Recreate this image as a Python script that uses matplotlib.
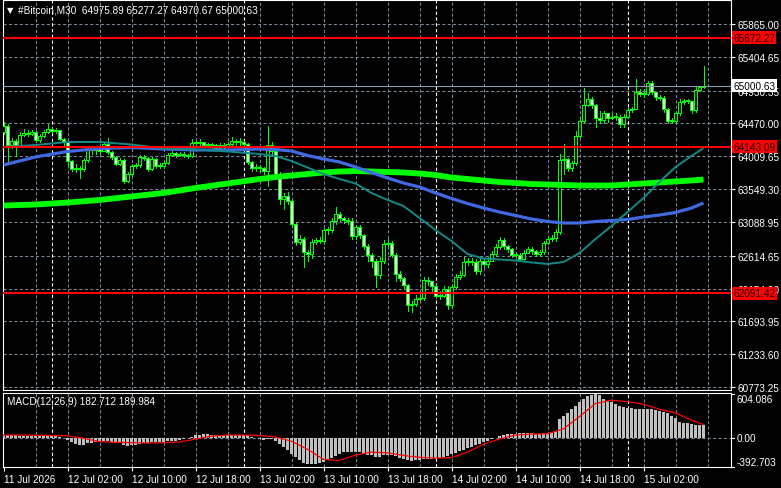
import matplotlib
matplotlib.use('Agg')
import matplotlib.pyplot as plt
from matplotlib.transforms import blended_transform_factory
import numpy as np

# ---------------- data ----------------
first_open = 64350.0
close = [
    64435, 64168, 64224, 64154, 64308, 64336, 64322, 64350, 64238, 64294,
    64350, 64393, 64364, 64378, 64252, 64210, 63944, 63831, 63845, 63831,
    63958, 64098, 64098, 64112, 64084, 64182, 64070, 64000, 63902, 63958,
    63663, 63761, 63873, 63888, 64000, 63986, 63831, 63972, 63873, 63873,
    63916, 64028, 64056, 64028, 64042, 64028, 64014, 64196, 64196, 64210,
    64168, 64168, 64168, 64126, 64168, 64154, 64182, 64224, 64210, 64210,
    64182, 63930, 63845, 63859, 63845, 63803, 64168, 64084, 63761, 63411,
    63453, 63383, 63060, 62807, 62850, 62667, 62639, 62807, 62835, 62821,
    62976, 62976, 63102, 63200, 63144, 63116, 63102, 62892, 63018, 62906,
    62751, 62625, 62541, 62345, 62541, 62779, 62793, 62625, 62359, 62303,
    62204, 61924, 61938, 62008, 62022, 62274, 62260, 62190, 62050, 62050,
    62148, 61924, 62176, 62316, 62345, 62527, 62541, 62527, 62401, 62541,
    62499, 62541, 62639, 62737, 62835, 62751, 62709, 62625, 62625, 62569,
    62653, 62709, 62681, 62639, 62667, 62793, 62850, 62864, 62948, 63958,
    63972, 63845, 63916, 64294, 64505, 64729, 64813, 64729, 64547, 64519,
    64617, 64547, 64561, 64561, 64463, 64561, 64659, 64673, 64912, 64883,
    64883, 65038, 64912, 64841, 64827, 64673, 64505, 64505, 64617, 64771,
    64785, 64785, 64659, 64940, 64975.89, 65000.63]
high = [
    64491, 64463, 64266, 64252, 64350, 64393, 64378, 64378, 64364, 64322,
    64378, 64463, 64407, 64407, 64378, 64266, 64182, 63958, 63902, 63873,
    63986, 64140, 64140, 64154, 64140, 64210, 64266, 64084, 64014, 63986,
    63972, 63789, 63902, 63916, 64028, 64028, 64000, 64000, 63986, 63916,
    63944, 64056, 64084, 64070, 64070, 64070, 64042, 64252, 64224, 64252,
    64210, 64196, 64196, 64182, 64196, 64196, 64210, 64280, 64252, 64266,
    64224, 64196, 63944, 63902, 63888, 63859, 64435, 64210, 64112, 63789,
    63495, 63509, 63411, 63088, 62906, 62878, 62695, 62850, 62864, 62878,
    63004, 63018, 63144, 63298, 63228, 63158, 63144, 63144, 63046, 63046,
    62920, 62779, 62653, 62569, 62597, 62835, 62850, 62821, 62653, 62401,
    62316, 62218, 61980, 62064, 62106, 62316, 62316, 62260, 62218, 62120,
    62190, 62190, 62218, 62359, 62401, 62597, 62583, 62583, 62569, 62597,
    62569, 62597, 62681, 62779, 62878, 62864, 62765, 62723, 62667, 62653,
    62695, 62737, 62737, 62695, 62695, 62821, 62892, 62906, 62990, 64042,
    64182, 63986, 63944, 64364, 64561, 64968, 64897, 64841, 64743, 64645,
    64645, 64603, 64603, 64617, 64589, 64603, 64701, 64701, 65094, 64954,
    64954, 65066, 65066, 64912, 64869, 64855, 64687, 64547, 64645, 64813,
    64813, 64813, 64785, 64982, 64996, 65277.27]
low = [
    64322, 63930, 64126, 64014, 64140, 64294, 64294, 64308, 64210, 64210,
    64280, 64336, 64336, 64336, 64238, 64154, 63873, 63803, 63789, 63705,
    63803, 63930, 64042, 64042, 64042, 64098, 64042, 63972, 63888, 63888,
    63635, 63649, 63733, 63845, 63859, 63958, 63803, 63817, 63845, 63845,
    63845, 63902, 64014, 64000, 64014, 64000, 63986, 64000, 64154, 64154,
    64140, 64140, 64126, 64098, 64112, 64084, 64126, 64168, 64168, 64168,
    64126, 63902, 63803, 63803, 63803, 63761, 63593, 64014, 63719, 63340,
    63270, 63340, 63018, 62765, 62779, 62457, 62541, 62583, 62779, 62793,
    62779, 62920, 62948, 63060, 63102, 63074, 63060, 62850, 62850, 62864,
    62709, 62541, 62457, 62176, 62303, 62513, 62751, 62597, 62260, 62260,
    62148, 61840, 61826, 61910, 61980, 61994, 62204, 62120, 62022, 62008,
    62036, 61868, 61896, 62148, 62288, 62331, 62485, 62485, 62359, 62359,
    62457, 62457, 62541, 62611, 62709, 62709, 62667, 62597, 62597, 62541,
    62541, 62653, 62639, 62611, 62611, 62639, 62779, 62821, 62821, 62920,
    63761, 63803, 63803, 63888, 64280, 64477, 64715, 64687, 64420, 64477,
    64477, 64491, 64533, 64519, 64420, 64420, 64547, 64631, 64673, 64855,
    64841, 64869, 64883, 64799, 64799, 64631, 64477, 64477, 64477, 64589,
    64743, 64757, 64617, 64631, 64925, 64970.67]

ma_idx = [0, 8, 16, 24, 32, 40, 48, 56, 64, 68, 72, 76, 80, 84, 88, 92, 96,
          100, 104, 108, 112, 116, 120, 124, 128, 132, 136, 140, 144, 148,
          152, 156, 160, 164, 168, 172, 175]
ma_blue = [63888, 64000, 64077, 64119, 64133, 64112, 64098, 64098, 64112,
           64105, 64084, 64021, 63972, 63930, 63859, 63782, 63705, 63635,
           63579, 63495, 63418, 63347, 63284, 63228, 63179, 63130, 63095,
           63074, 63074, 63095, 63109, 63123, 63158, 63186, 63221, 63284, 63355]
ma_green = [63319, 63333, 63361, 63397, 63446, 63495, 63565, 63628, 63691,
            63719, 63740, 63761, 63782, 63796, 63803, 63796, 63789, 63782,
            63768, 63747, 63712, 63691, 63670, 63649, 63635, 63621, 63614,
            63607, 63600, 63600, 63600, 63614, 63628, 63642, 63656, 63670, 63684]
ma_teal = [64140, 64168, 64210, 64210, 64175, 64119, 64105, 64077, 64042,
           64014, 63944, 63852, 63761, 63691, 63628, 63495, 63397, 63312,
           63144, 62976, 62821, 62639, 62576, 62562, 62548, 62520, 62499,
           62527, 62653, 62850, 63032, 63228, 63425, 63649, 63859, 64014, 64126]

macd_main = [
    45, 45, 40, 40, 35, 35, 30, 30, 30, 30, 35, 35, 35, 30, 20, 10,
    -20, -55, -80, -90, -85, -70, -60,
    -50, -45, -40, -40, -45, -60, -70, -95,
    -100, -95, -85,
    -75, -65, -65, -55, -55, -55, -50, -40, -35, -30, -25,
    -10, 0, 25, 40, 50,
    55, 55, 50, 50, 45, 45, 45, 50, 50, 50, 50, 40, 20,
    10, -5, -20, -10, -15, -35, -75, -120,
    -160, -210, -260, -300, -340, -360, -360, -355, -340,
    -320, -300, -270, -240, -215, -195, -185, -190, -190, -195, -210, -225,
    -235, -260, -255, -235, -225, -230, -250, -265,
    -285, -300, -310, -305, -300, -285, -280,
    -285, -280, -270, -260, -245,
    -220, -200, -180, -160, -140, -120, -95, -75,
    -50, -35, -15, 5, 30, 40, 55, 60,
    65, 70, 70, 70, 70, 65, 65, 70, 80, 85, 95,
    265, 310, 355, 400, 450, 500, 545, 580, 600, 604, 595,
    540, 520, 495, 470, 446, 430, 420, 412, 410, 410, 408, 405, 400, 392,
    378, 365, 350, 310, 280, 225, 215, 215, 195, 180, 190, 182.712]
sig_idx = [0, 4, 8, 12, 16, 20, 24, 28, 32, 36, 40, 44, 48, 52, 56, 60, 64,
           68, 72, 76, 80, 84, 88, 92, 96, 100, 104, 108, 112, 116, 120, 124,
           128, 132, 136, 140, 144, 148, 152, 156, 160, 164, 168, 172, 175]
macd_signal = [45, 45, 42, 40, 35, 0, -45, -55, -60, -65, -60, -50, -10, 30,
               45, 45, 40, 20, -40, -150, -290, -305, -230, -190, -200, -235,
               -262, -273, -265, -190, -80, -10, 45, 58, 62, 130, 300, 480,
               525, 505, 470, 400, 350, 250, 189.984]

price_ticks = [65865.00, 65404.65, 64930.35, 64470.00, 64009.65, 63549.30,
               63088.95, 62614.65, 62154.30, 61693.95, 61233.60, 60773.25]
levels = [65672.27, 64143.09, 62091.42]
last_price = 65000.63
x_label_idx = [0, 16, 32, 48, 64, 80, 96, 112, 128, 144, 160]
x_labels = ["11 Jul 2026", "12 Jul 02:00", "12 Jul 10:00", "12 Jul 18:00",
            "13 Jul 02:00", "13 Jul 10:00", "13 Jul 18:00", "14 Jul 02:00",
            "14 Jul 10:00", "14 Jul 18:00", "15 Jul 02:00"]
separators = [12, 60, 108, 156]
macd_max, macd_min = 604.086, -392.703
title = "#Bitcoin,M30  64975.89 65277.27 64970.67 65000.63"
macd_title = "MACD(12,26,9) 182.712 189.984"

# ---------------- style ----------------
FONT = ['Liberation Sans', 'DejaVu Sans']
plt.rcParams['font.family'] = FONT
LIME = '#00ff00'
GRID = '#778899'
W, H = 781, 489
fig = plt.figure(figsize=(W / 100, H / 100), dpi=100, facecolor='black')


def rect(l, t, r, b):
    return [l / W, 1 - b / H, (r - l) / W, (b - t) / H]


ax = fig.add_axes(rect(2.5, 0.5, 730.5, 391))
ax2 = fig.add_axes(rect(2.5, 394, 730.5, 468))
XL = (-0.25, 181.75)
for a in (ax, ax2):
    a.set_facecolor('black')
    a.set_xlim(*XL)
    for s in a.spines.values():
        s.set_color('white')
        s.set_linewidth(0.8)
ax.set_ylim(60731.4, 66209)
ax2.set_ylim(macd_min - 2, macd_max + 20)

dash = (0, (3, 2.2))
# vertical grid
for a in (ax, ax2):
    for k in range(8, 182, 8):
        a.axvline(k, color=GRID, lw=0.75, ls=dash, zorder=1)
    for s in separators:
        a.axvline(s, color='white', lw=0.8, ls=dash, zorder=1.1)
for p in price_ticks:
    ax.axhline(p, color=GRID, lw=0.75, ls=dash, zorder=1)
ax2.axhline(0, color=GRID, lw=0.75, ls=dash, zorder=1)

# candles
c = np.array(close, float)
o = np.array([first_open] + close[:-1], float)
h = np.maximum(np.array(high, float), np.maximum(o, c))
l = np.minimum(np.array(low, float), np.minimum(o, c))
x = np.arange(len(c))
ax.vlines(x, l, h, color=LIME, lw=0.72, zorder=3, antialiased=False)
bull = c >= o
lo = np.minimum(o, c)
ht = np.maximum(np.abs(c - o), 10)
ax.bar(x[bull], ht[bull], bottom=lo[bull], width=0.7, color='black',
       edgecolor=LIME, linewidth=0.6, zorder=4, antialiased=False)
ax.bar(x[~bull], ht[~bull], bottom=lo[~bull], width=0.7, color='white',
       edgecolor=LIME, linewidth=0.6, zorder=4, antialiased=False)

# moving averages
ax.plot(ma_idx, ma_green, color='#00ff00', lw=4.2, zorder=5,
        solid_capstyle='butt')
ax.plot(ma_idx, ma_blue, color='#4169e1', lw=2.3, zorder=6,
        solid_capstyle='butt')
ax.plot(ma_idx, ma_teal, color='#138a8a', lw=1.4, zorder=6,
        solid_capstyle='butt')

# levels and price line
for lv in levels:
    ax.axhline(lv, color='#ff0000', lw=1.5, zorder=7)
ax.axhline(last_price, color='#8899aa', lw=0.8, zorder=6.5)

# right axis
ax.yaxis.tick_right()
ax.set_yticks(price_ticks)
ax.set_yticklabels([f"{p:.2f}" for p in price_ticks])
ax.tick_params(axis='y', colors='white', length=3, width=0.8, pad=2,
               labelsize=7.2, labelcolor='white')
ax.set_xticks([])
tr = blended_transform_factory(ax.transAxes, ax.transData)
for lv in levels:
    ax.text(1.0 + 2.5 / 728, lv, f"{lv:.2f}", transform=tr, ha='left',
            va='center', fontsize=7.2, color='#1a0000', clip_on=False,
            zorder=10,
            bbox=dict(boxstyle='square,pad=0.15', fc='#ff0000', ec='none'))
ax.text(1.0 + 2.5 / 728, last_price, f"{last_price:.2f}", transform=tr,
        ha='left', va='center', fontsize=7.2, color='black', clip_on=False,
        zorder=10, bbox=dict(boxstyle='square,pad=0.15', fc='white', ec='none'))

# MACD panel
ax2.bar(x, macd_main, width=0.6, color='#c0c0c0', zorder=3,
        antialiased=False)
ax2.plot(sig_idx, macd_signal, color='#ff0000', lw=0.9, zorder=4)
ax2.yaxis.tick_right()
ax2.set_yticks([])
tr2 = blended_transform_factory(ax2.transAxes, ax2.transData)
ax2.text(1.0 + 6 / 728, macd_max, f"{macd_max:.3f}", transform=tr2,
         ha='left', va='top', fontsize=7.2, color='white', clip_on=False)
ax2.text(1.0 + 6 / 728, 0, "0.00", transform=tr2, ha='left', va='center',
         fontsize=7.2, color='white', clip_on=False)
ax2.text(1.0 + 6 / 728, macd_min, f"{macd_min:.3f}", transform=tr2,
         ha='left', va='bottom', fontsize=7.2, color='white', clip_on=False)
for v in (macd_max, 0, macd_min):
    ax2.plot([1.0, 1.0 + 3 / 728], [v, v], transform=tr2, color='white',
             lw=0.8, clip_on=False)
ax2.set_xticks(x_label_idx)
ax2.set_xticklabels(x_labels)
ax2.tick_params(axis='x', colors='white', length=3, width=0.8, pad=2,
                labelsize=7.2, labelcolor='white')
for t in ax2.get_xticklabels():
    t.set_ha('left')

# titles
fig.text(7 / W, 1 - 10.5 / H, "\u25BC", color='white', fontsize=6,
         va='center', ha='left', family=['DejaVu Sans'])
fig.text(18 / W, 1 - 10.5 / H, title, color='white', fontsize=7.2,
         va='center', ha='left')
fig.text(7 / W, 1 - 402.5 / H, macd_title, color='white', fontsize=7.2,
         va='center', ha='left')

fig.savefig('out.png', dpi=100, facecolor='black')
